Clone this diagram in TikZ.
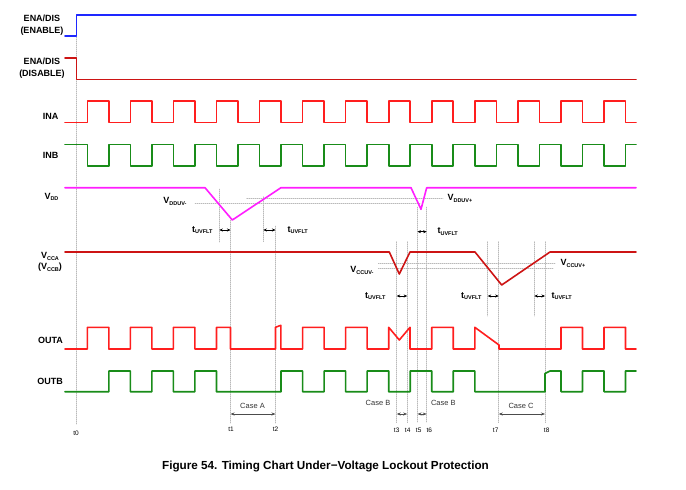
\documentclass[tikz,border=0pt]{standalone}
\usepackage{fontspec}
\setmainfont{Liberation Sans}
\usetikzlibrary{arrows.meta}

\definecolor{enablue}{RGB}{30,40,255}
\definecolor{dkred}{RGB}{205,20,20}
\definecolor{brred}{RGB}{255,30,30}
\definecolor{sgreen}{RGB}{25,140,25}
\definecolor{vmag}{RGB}{255,30,255}

\newcommand{\vsub}[2]{#1\raisebox{-0.35ex}{\fontsize{5.5pt}{6pt}\selectfont #2}}

\begin{document}
\begin{tikzpicture}[x=1pt, y=-1pt, font=\fontsize{9}{11.5}\selectfont\bfseries, line join=round, line cap=round,
    sig/.style={line width=1.6pt},
    guide/.style={gray!55, line width=0.5pt, dash pattern=on 1pt off 1pt},
    tarr/.style={{Stealth[length=3.5pt,width=3pt]}-{Stealth[length=3.5pt,width=3pt]}, line width=0.5pt},
    carr/.style={{Stealth[length=4pt,width=3pt]}-{Stealth[length=4pt,width=3pt]}, line width=0.6pt, black!70},
    tlab/.style={font=\fontsize{6.5}{7}\selectfont\mdseries},
    clab/.style={font=\fontsize{7.5}{8}\selectfont\mdseries, black!80}]
    \useasboundingbox (0,0) rectangle (686,490);
    \def\per{43.06} \def\half{21.5} \def\rz{87.3}

    % guide lines
    \draw[guide] (76.5,15)--(76.5,425);
    \draw[guide] (219.3,189)--(219.3,242) (263.3,196.7)--(263.3,242);
    \draw[guide] (230.5,220)--(230.5,423) (275.5,226)--(275.5,423);
    \draw[guide] (417.5,207)--(417.5,423) (426.7,207)--(426.7,423);
    \draw[guide] (396.7,241.7)--(396.7,423) (407.2,241.7)--(407.2,423);
    \draw[guide] (487.7,241.7)--(487.7,316) (534.3,241.7)--(534.3,316);
    \draw[guide] (498.7,241.7)--(498.7,423) (545,241.7)--(545,423);
    \draw[guide] (195,203.3)--(420,203.3) (246.7,198.3)--(443,198.3);
    \draw[guide] (378.3,263.3)--(555,263.3) (378.3,267.8)--(553,267.8);

    % labels
    \node[align=center] (enaen) at (42,25) {ENA/DIS\\(ENABLE)};
    \node[align=center] (enadis) at (42,68) {ENA/DIS\\(DISABLE)};
    \node[anchor=east] (ina) at (62,116.5) {INA};
    \node[anchor=east] (inb) at (62,155) {INB};
    \node[anchor=east] (vdd) at (62,197) {\vsub{V}{DD}};
    \node[align=center] (vcca) at (50,262) {\vsub{V}{CCA}\\(\vsub{V}{CCB})};
    \node[anchor=east] (outa) at (66.5,340) {OUTA};
    \node[anchor=east] (outb) at (66.5,381.7) {OUTB};

    % ENA/DIS
    \draw[sig, enablue] (65,35.7)--(76.5,35.7)--(76.5,14.7)--(636,14.7);
    \draw[sig, dkred] (65,57.7)--(76.5,57.7)--(76.5,79.3)--(636,79.3);

    % INA, INB
    \draw[sig, brred] (65,122.3) \foreach \k in {0,...,12} {-- ({\rz+\k*\per},122.3) -- ++(0,-21.3) -- ++(\half,0) -- ++(0,21.3)} -- (636,122.3);
    \draw[sig, sgreen] (65,144.3) \foreach \k in {0,...,12} {-- ({\rz+\k*\per},144.3) -- ++(0,21.5) -- ++(\half,0) -- ++(0,-21.5)} -- (636,144.3);

    % VDD
    \draw[sig, vmag] (65,187.7)--(205,187.7)--(232.3,220)--(281,187.7)--(411,187.7)--(421,209.3)--(426.7,187.7)--(636,187.7);
    \node[anchor=east] (vdduvm) at (190,201.5) {\vsub{V}{DDUV-}};
    \node[anchor=west] (vdduvp) at (444,198.3) {\vsub{V}{DDUV+}};
    \draw[tarr] (219.3,230)--(230.5,230);
    \draw[tarr] (263.3,230)--(275.5,230);
    \draw[tarr] (417.5,231.7)--(426.7,231.7);
    \node[anchor=east] (tflt1) at (216,230) {\vsub{t}{UVFLT}};
    \node[anchor=west] (tflt2) at (284,230) {\vsub{t}{UVFLT}};
    \node[anchor=west] (tflt3) at (434,231.7) {\vsub{t}{UVFLT}};

    % VCCA
    \draw[sig, dkred] (65,252)--(389.3,252)--(399.3,274)--(410,252)--(475,252)--(501.7,285)--(550,252)--(636,252);
    \node[anchor=east] (vccuvm) at (377,270.5) {\vsub{V}{CCUV-}};
    \node[anchor=west] (vccuvp) at (557,263.3) {\vsub{V}{CCUV+}};
    \draw[tarr] (396.7,296)--(407.2,296);
    \draw[tarr] (487.7,296)--(498.7,296);
    \draw[tarr] (534.3,296)--(545,296);
    \node[anchor=east] (tflt4) at (389,296) {\vsub{t}{UVFLT}};
    \node[anchor=east] (tflt5) at (485,296) {\vsub{t}{UVFLT}};
    \node[anchor=west] (tflt6) at (548,296) {\vsub{t}{UVFLT}};

    % OUTA
    \draw[sig, brred] (65,349) \foreach \k in {0,1,2} {-- ({\rz+\k*\per},349) -- ++(0,-21.7) -- ++(\half,0) -- ++(0,21.7)}
        -- (216.5,349) -- (216.5,327.3) -- (230.5,327.3) -- (230.5,349)
        -- (275.5,349) -- (275.5,327.3) -- (280.8,325.3) -- (280.8,349)
        \foreach \k in {5,6} {-- ({\rz+\k*\per},349) -- ++(0,-21.7) -- ++(\half,0) -- ++(0,21.7)}
        -- (388.7,349) -- (388.7,327.3) -- (399.3,340) -- (410,327.3) -- (410,349)
        \foreach \k in {8} {-- ({\rz+\k*\per},349) -- ++(0,-21.7) -- ++(\half,0) -- ++(0,21.7)}
        -- (474.8,349) -- (474.8,327.3) -- (499,345) -- (499,349)
        \foreach \k in {11,12} {-- ({\rz+\k*\per},349) -- ++(0,-21.7) -- ++(\half,0) -- ++(0,21.7)}
        -- (636,349);

    % OUTB
    \draw[sig, sgreen] (65,391.7) \foreach \k in {0,1,2,4,5,6,7,8} {-- ({\rz+\k*\per+\half},391.7) -- ++(0,-20.7) -- ++({\per-\half},0) -- ++(0,20.7)}
        -- (545,391.7) -- (545,373.5) -- (550,371) -- (561,371) -- (561,391.7)
        \foreach \k in {11} {-- ({\rz+\k*\per+\half},391.7) -- ++(0,-20.7) -- ++({\per-\half},0) -- ++(0,20.7)}
        -- (625.5,391.7) -- (625.5,371) -- (636,371);

    % cases
    \draw[carr] (230.5,414)--(275.5,414);
    \draw[carr] (396.7,414)--(407.2,414);
    \draw[carr] (417.5,414)--(426.7,414);
    \draw[carr] (498.7,414)--(545,414);
    \node[clab] (casea) at (252.5,406) {Case A};
    \node[clab] (caseb1) at (378,402.7) {Case B};
    \node[clab] (caseb2) at (443.3,402.7) {Case B};
    \node[clab] (casec) at (521,405.7) {Case C};

    % time marks
    \node[tlab] (t0) at (76,433) {t0};
    \node[tlab] (t1) at (231,429.5) {t1};
    \node[tlab] (t2) at (275.5,429.5) {t2};
    \node[tlab] (t3) at (396.7,430) {t3};
    \node[tlab] (t4) at (407.7,430) {t4};
    \node[tlab] (t5) at (418.7,430) {t5};
    \node[tlab] (t6) at (429.3,430) {t6};
    \node[tlab] (t7) at (495.7,430) {t7};
    \node[tlab] (t8) at (546.7,430) {t8};

    \node[font=\fontsize{11.7}{13}\selectfont\bfseries] (cap) at (325.5,466.7) {Figure 54. Timing Chart Under−Voltage Lockout Protection};
\end{tikzpicture}
\end{document}
